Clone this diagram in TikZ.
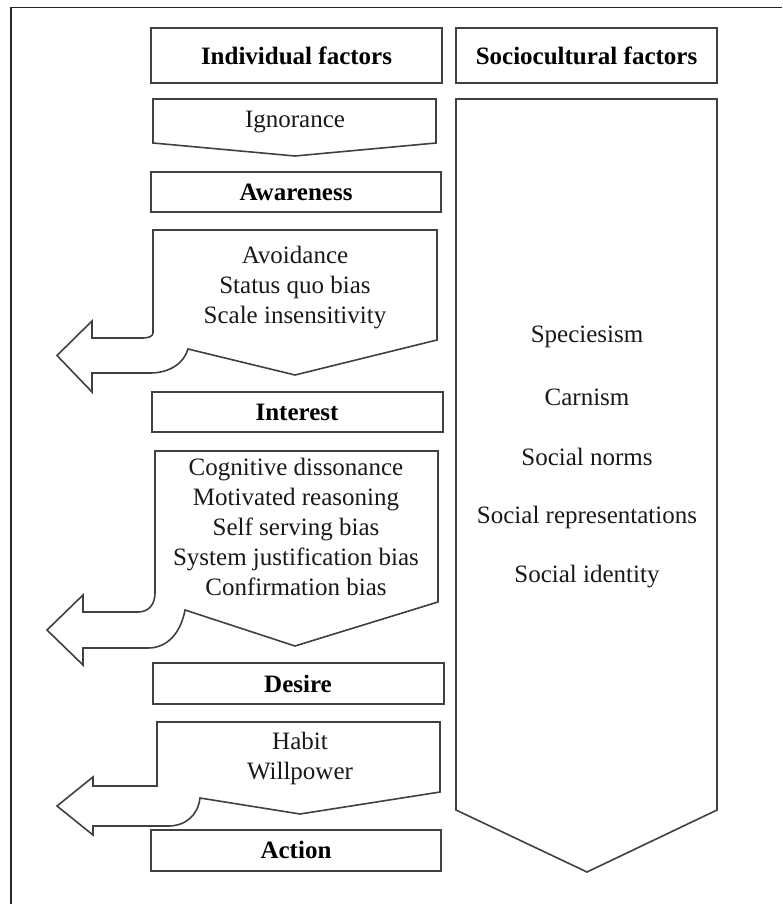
\documentclass[tikz,border=0pt]{standalone}
\usepackage{fontspec}
\setmainfont{Liberation Serif}
\begin{document}
\begin{tikzpicture}[x=1pt,y=-1pt,
  shapeline/.style={draw=black!75, line width=1.6pt, fill=white, line join=miter},
  txt/.style={font=\fontsize{25}{30}\selectfont, align=center, text=black!90, inner sep=0pt},
  hdr/.style={font=\fontsize{25}{30}\selectfont\bfseries, align=center, text=black, inner sep=0pt}]
\useasboundingbox (0,0) rectangle (782,904);
\draw[line width=1.7pt, black!85] (11,904) -- (11,7.5) -- (782,7.5);

% header boxes
\draw[shapeline] (151,28) rectangle (442,83);
\node[hdr] (indiv) at (296.5,55.5) {Individual factors};
\draw[shapeline] (456,28) rectangle (717,83);
\node[hdr] (socio) at (586.5,55.5) {Sociocultural factors};

% sociocultural chevron
\draw[shapeline] (456,99) -- (717,99) -- (717,810) -- (587,872) -- (456,810) -- cycle;
\node[txt] (spec) at (587,337) {Speciesism};
\node[txt] (carn) at (587,397) {Carnism};
\node[txt] (norm) at (587,457) {Social norms};
\node[txt] (repr) at (587,517) {Social representations};
\node[txt] (iden) at (587,577) {Social identity};

% ignorance chevron
\draw[shapeline] (153,99) -- (436,99) -- (436,143) -- (295,156) -- (153,143) -- cycle;
\node[txt] (ign) at (295,122) {Ignorance};

% awareness
\draw[shapeline] (151,172) rectangle (441,212);
\node[hdr] (aware) at (296,192) {Awareness};

% avoidance shape
\draw[shapeline] (153,230) -- (437,230) -- (437,340) -- (295,375) -- (188,349)
  .. controls (184,363) and (170,373) .. (150,373)
  -- (92,373) -- (92,392) -- (57,355.5) -- (92,321) -- (92,338) -- (143,338)
  .. controls (149,338) and (153,336) .. (153,333) -- cycle;
\node[txt] (avoid) at (295,287.5) {Avoidance\\Status quo bias\\Scale insensitivity};

% interest
\draw[shapeline] (152,392) rectangle (443,432);
\node[hdr] (inter) at (297,412) {Interest};

% cognitive shape
\draw[shapeline] (155,451) -- (438,451) -- (438,602) -- (295,646) -- (185,610)
  .. controls (181,632) and (168,648) .. (148,648)
  -- (83,648) -- (83,665) -- (47,630) -- (83,595) -- (83,612) -- (138,612)
  .. controls (149,612) and (155,604) .. (155,593) -- cycle;
\node[txt] (cogn) at (296,527) {Cognitive dissonance\\Motivated reasoning\\Self serving bias\\System justification bias\\Confirmation bias};

% desire
\draw[shapeline] (153,663) rectangle (444,704);
\node[hdr] (desire) at (298,684) {Desire};

% habit shape
\draw[shapeline] (157,722) -- (440,722) -- (440,792) -- (300,814) -- (200,798)
  .. controls (198,815) and (186,826) .. (168,826)
  -- (93,826) -- (93,835) -- (57,806) -- (93,777) -- (93,786) -- (157,786) -- cycle;
\node[txt] (habit) at (300,758) {Habit\\Willpower};

% action
\draw[shapeline] (151,830) rectangle (441,871);
\node[hdr] (action) at (296,850) {Action};
\end{tikzpicture}
\end{document}
